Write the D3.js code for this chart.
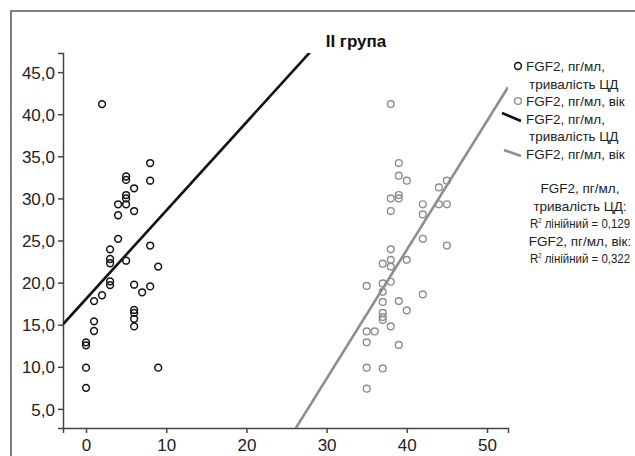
<!DOCTYPE html>
<html>
<head>
<meta charset="utf-8">
<script src="https://cdn.jsdelivr.net/npm/d3@7"></script>
<style>
  body { margin: 0; background: #fff; }
  svg { display: block; font-family: "Liberation Sans", Arial, sans-serif; }
</style>
</head>
<body>
<svg class="chart" width="635" height="456"></svg>
<script>
// FGF2 vs. duration of diabetes (black) and vs. age (grey)
var durX = [2, 8, 8, 5, 5, 6, 5, 5, 4, 5, 6, 4, 4, 3, 8, 3, 3, 5, 9, 3, 3, 6, 8, 7, 2, 1, 6, 6, 6, 6, 1, 1, 0, 0, 0, 9, 0];
var durY = [41.2, 34.2, 32.1, 32.6, 32.2, 31.2, 30.4, 30.0, 29.3, 29.3, 28.5, 28.0, 25.2, 23.95, 24.4, 22.8, 22.3, 22.6, 21.9, 20.15, 19.7, 19.75, 19.55, 18.85, 18.5, 17.8, 16.75, 16.4, 15.7, 14.8, 15.4, 14.25, 12.9, 12.55, 9.9, 9.9, 7.5];

var ageX = [38, 39, 39, 40, 45, 44, 38, 39, 39, 42, 44, 45, 38, 42, 42, 45, 38, 38, 37, 38, 40, 37, 38, 35, 37, 37, 39, 42, 40, 37, 37, 37, 38, 35, 36, 35, 39, 35, 37, 35];
var ageY = [41.2, 34.2, 32.7, 32.1, 32.1, 31.3, 30.0, 30.4, 30.0, 29.3, 29.3, 29.3, 28.5, 28.1, 25.2, 24.4, 23.95, 22.7, 22.25, 21.9, 22.7, 19.9, 20.1, 19.6, 18.9, 17.7, 17.8, 18.6, 16.7, 16.4, 15.9, 15.55, 14.8, 14.2, 14.2, 12.9, 12.6, 9.9, 9.8, 7.4];

// fit lines: [intercept, slope]
var fitDur = [18.06, 1.049];
var fitAge = [-37.31, 1.53];

var xTicks = [0, 10, 20, 30, 40, 50];
var yTicks = [5, 10, 15, 20, 25, 30, 35, 40, 45];

var legendRows = ['FGF2, пг/мл,', 'тривалість ЦД', 'FGF2, пг/мл, вік', 'FGF2, пг/мл,', 'тривалість ЦД', 'FGF2, пг/мл, вік'];
var r2Rows = ['FGF2, пг/мл,', 'тривалість ЦД:', 'лінійний = 0,129', 'FGF2, пг/мл, вік:', 'лінійний = 0,322'];

var black = '#111';
var grey = '#8e8e8e';

var svg = d3.select('.chart');
var fmt = d3.formatLocale({decimal: ',', thousands: ' ', grouping: [3], currency: ['', '']}).format('.1f');

var x = d3.scaleLinear().domain([-2.87, 52.62]).range([63, 508]);
var y = d3.scaleLinear().domain([2.73, 47.27]).range([428, 53]);

// outer frame
svg.append('rect')
  .attr('x', 11).attr('y', 11)
  .attr('width', 700).attr('height', 700)
  .attr('fill', 'none')
  .attr('stroke', '#555')
  .attr('stroke-width', 1.5);

svg.append('text')
  .attr('x', 356).attr('y', 47)
  .attr('text-anchor', 'middle')
  .attr('font-size', 17)
  .attr('font-weight', 'bold')
  .attr('fill', '#111')
  .text('II група');

svg.append('clipPath').attr('id', 'plot')
  .append('rect')
  .attr('x', 63).attr('y', 53)
  .attr('width', 445).attr('height', 375);

var yAxis = svg.append('g')
  .attr('transform', 'translate(63,0)')
  .call(d3.axisLeft(y).tickValues(yTicks).tickFormat(fmt).tickSize(5).tickPadding(3));
var xAxis = svg.append('g')
  .attr('transform', 'translate(0,428)')
  .call(d3.axisBottom(x).tickValues(xTicks).tickSize(5).tickPadding(4));

[xAxis, yAxis].forEach(function (ax) {
  ax.select('.domain').attr('stroke', '#444').attr('stroke-width', 1.5);
  ax.selectAll('.tick line').attr('stroke', '#444').attr('stroke-width', 1.5);
  ax.selectAll('.tick text')
    .attr('fill', '#222')
    .attr('font-size', 17)
    .attr('font-family', '"Liberation Sans", Arial, sans-serif');
});
yAxis.selectAll('.tick text').attr('dy', '0.36em');
xAxis.selectAll('.tick text').attr('dy', '0.8em');

var lines = svg.append('g').attr('clip-path', 'url(#plot)');
var fitPath = function (fit) {
  var d = x.domain();
  return d3.line()
    .x(function (v) { return x(v); })
    .y(function (v) { return y(fit[0] + fit[1] * v); })(d);
};
lines.append('path').attr('d', fitPath(fitDur))
  .attr('stroke', black).attr('stroke-width', 2.6).attr('fill', 'none');
lines.append('path').attr('d', fitPath(fitAge))
  .attr('stroke', grey).attr('stroke-width', 2.6).attr('fill', 'none');

svg.append('g').selectAll('circle')
  .data(ageX).enter()
  .append('circle')
  .attr('cx', function (d) { return x(d); })
  .attr('cy', function (d, i) { return y(ageY[i]); })
  .attr('r', 3.4)
  .attr('fill', 'none')
  .attr('stroke', grey)
  .attr('stroke-width', 1.4);

svg.append('g').selectAll('circle')
  .data(durX).enter()
  .append('circle')
  .attr('cx', function (d) { return x(d); })
  .attr('cy', function (d, i) { return y(durY[i]); })
  .attr('r', 3.4)
  .attr('fill', 'none')
  .attr('stroke', black)
  .attr('stroke-width', 1.5);

// legend
var legend = svg.append('g')
  .attr('font-size', 13.5)
  .attr('fill', '#222');
legend.selectAll('text')
  .data(legendRows).enter()
  .append('text')
  .attr('x', function (d, i) { return (i === 1 || i === 4) ? 529 : 526; })
  .attr('y', function (d, i) { return 71 + i * 17.6; })
  .attr('fill', '#222')
  .text(function (d) { return d; });

legend.append('circle').attr('cx', 518).attr('cy', 66).attr('r', 3.4)
  .attr('fill', 'none').attr('stroke', black).attr('stroke-width', 1.5);
legend.append('circle').attr('cx', 518).attr('cy', 101).attr('r', 3.4)
  .attr('fill', 'none').attr('stroke', grey).attr('stroke-width', 1.4);
legend.append('line').attr('x1', 502).attr('y1', 113).attr('x2', 521).attr('y2', 121)
  .attr('stroke', black).attr('stroke-width', 2.6);
legend.append('line').attr('x1', 504).attr('y1', 150).attr('x2', 521).attr('y2', 156)
  .attr('stroke', grey).attr('stroke-width', 2.6);

// R squared block
var r2 = svg.append('g')
  .attr('font-size', 13.5)
  .attr('fill', '#222')
  .attr('text-anchor', 'middle');
r2Rows.forEach(function (row, i) {
  var t = r2.append('text').attr('x', 580).attr('y', 193 + i * 17.5);
  if (i === 2 || i === 4) {
    t.attr('transform', 'translate(580,0) scale(0.85,1) translate(-580,0)');
    t.append('tspan').text('R');
    t.append('tspan').attr('font-size', 7).attr('dy', -5).text('2');
    t.append('tspan').attr('dy', 5).text(' ' + row);
  } else {
    t.text(row);
  }
});
</script>
</body>
</html>
